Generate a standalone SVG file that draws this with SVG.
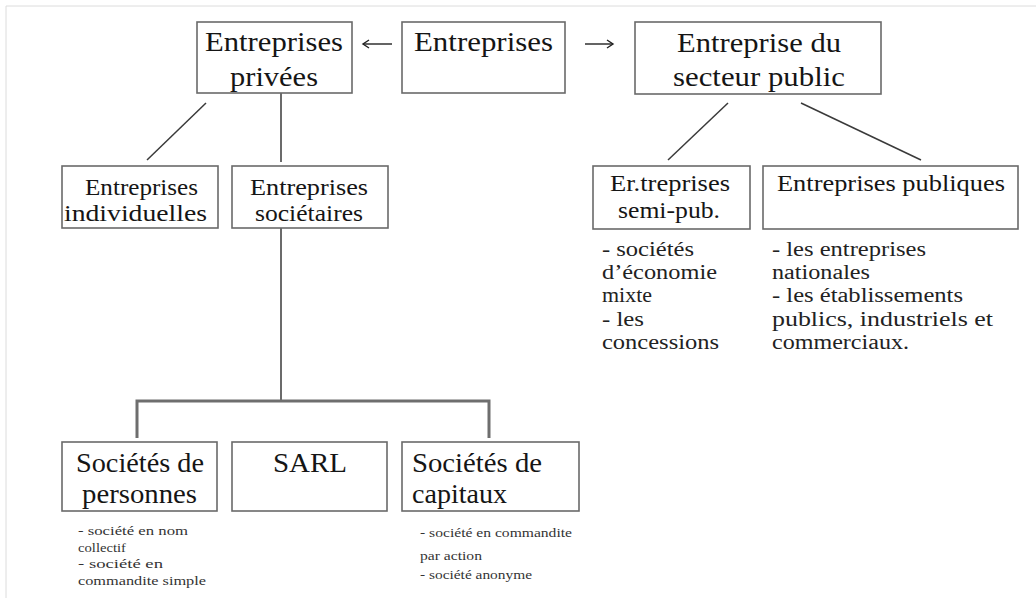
<svg xmlns="http://www.w3.org/2000/svg" width="1036" height="598" viewBox="0 0 1036 598" font-family="'Liberation Serif', 'Times New Roman', 'DejaVu Serif', serif">
<defs>
<marker id="ah" markerWidth="10" markerHeight="10" refX="8" refY="5" orient="auto" markerUnits="userSpaceOnUse">
<path d="M2,1 L8,5 L2,9" fill="none" stroke="#222" stroke-width="1.4"/>
</marker>
<style>
.box{fill:#fff;stroke:#6a6a6a;stroke-width:1.6}
text{font-family:'Liberation Serif','Times New Roman','DejaVu Serif',serif;fill:#151515}
.lg{font-size:28px}
.md{font-size:23px}
.bt{font-size:27px}
.ls{font-size:20px;fill:#222}
.sm{font-size:13px;fill:#333}
.ln{stroke:#3a3a3a;stroke-width:1.5;fill:none}
.bus{stroke:#6e6e6e;stroke-width:3;fill:none}
.ar{stroke:#222;stroke-width:1.4;fill:none}
</style>
</defs>
<rect x="0" y="0" width="1036" height="598" fill="#fff"/>
<path d="M6,598 V6 H1036" fill="none" stroke="#dcdcdc" stroke-width="1"/>

<g id="connectors">
<path class="ar" d="M392,44 H363" marker-end="url(#ah)"/>
<path class="ar" d="M585,44 H613" marker-end="url(#ah)"/>
<path class="ln" d="M206,103 L147,160"/>
<path class="ln" d="M281,93 V162"/>
<path class="ln" d="M281,228 V401"/>
<path class="bus" d="M137,438 V401 H489 V438"/>
<path class="ln" d="M728,103 L668,160"/>
<path class="ln" d="M801,103 L921,160"/>
</g>

<g id="n-prive">
<rect class="box" x="197" y="22" width="155" height="71"/>
<text class="lg" x="205" y="51" textLength="138" lengthAdjust="spacingAndGlyphs">Entreprises</text>
<text class="lg" x="230" y="86" textLength="88" lengthAdjust="spacingAndGlyphs">privées</text>
</g>
<g id="n-entreprises">
<rect class="box" x="402" y="22" width="163" height="71"/>
<text class="lg" x="414" y="51" textLength="139" lengthAdjust="spacingAndGlyphs">Entreprises</text>
</g>
<g id="n-public">
<rect class="box" x="635" y="22" width="246" height="72"/>
<text class="lg" x="677" y="52" textLength="164" lengthAdjust="spacingAndGlyphs">Entreprise du</text>
<text class="lg" x="673" y="86" textLength="172" lengthAdjust="spacingAndGlyphs">secteur public</text>
</g>

<g id="n-individuelles">
<rect class="box" x="62" y="166" width="156" height="62"/>
<text class="md" x="85" y="195" textLength="113" lengthAdjust="spacingAndGlyphs">Entreprises</text>
<text class="md" x="64" y="221" textLength="143" lengthAdjust="spacingAndGlyphs">individuelles</text>
</g>
<g id="n-societaires">
<rect class="box" x="232" y="166" width="156" height="62"/>
<text class="md" x="250" y="195" textLength="118" lengthAdjust="spacingAndGlyphs">Entreprises</text>
<text class="md" x="255" y="221" textLength="108" lengthAdjust="spacingAndGlyphs">sociétaires</text>
</g>

<g id="n-semipub">
<rect class="box" x="593" y="166" width="157" height="63"/>
<text class="md" x="610" y="191" textLength="120" lengthAdjust="spacingAndGlyphs">Er.treprises</text>
<text class="md" x="618" y="218" textLength="102" lengthAdjust="spacingAndGlyphs">semi-pub.</text>
<text class="ls" x="602" y="256" textLength="92" lengthAdjust="spacingAndGlyphs">- sociétés</text>
<text class="ls" x="602" y="279" textLength="115" lengthAdjust="spacingAndGlyphs">d’économie</text>
<text class="ls" x="602" y="302" textLength="50" lengthAdjust="spacingAndGlyphs">mixte</text>
<text class="ls" x="602" y="326" textLength="42" lengthAdjust="spacingAndGlyphs">- les</text>
<text class="ls" x="602" y="349" textLength="117" lengthAdjust="spacingAndGlyphs">concessions</text>
</g>
<g id="n-publiques">
<rect class="box" x="763" y="166" width="255" height="63"/>
<text class="md" x="777" y="191" textLength="228" lengthAdjust="spacingAndGlyphs">Entreprises publiques</text>
<text class="ls" x="772" y="256" textLength="154" lengthAdjust="spacingAndGlyphs">- les entreprises</text>
<text class="ls" x="772" y="279" textLength="98" lengthAdjust="spacingAndGlyphs">nationales</text>
<text class="ls" x="772" y="302" textLength="191" lengthAdjust="spacingAndGlyphs">- les établissements</text>
<text class="ls" x="772" y="326" textLength="221" lengthAdjust="spacingAndGlyphs">publics, industriels et</text>
<text class="ls" x="772" y="349" textLength="137" lengthAdjust="spacingAndGlyphs">commerciaux.</text>
</g>

<g id="n-personnes">
<rect class="box" x="62" y="442" width="155" height="69"/>
<text class="bt" x="76" y="472" textLength="128" lengthAdjust="spacingAndGlyphs">Sociétés de</text>
<text class="bt" x="82" y="503" textLength="115" lengthAdjust="spacingAndGlyphs">personnes</text>
<text class="sm" x="78" y="535" textLength="110" lengthAdjust="spacingAndGlyphs">- société en nom</text>
<text class="sm" x="78" y="552" textLength="48" lengthAdjust="spacingAndGlyphs">collectif</text>
<text class="sm" x="78" y="568" textLength="85" lengthAdjust="spacingAndGlyphs">- société en</text>
<text class="sm" x="78" y="585" textLength="128" lengthAdjust="spacingAndGlyphs">commandite simple</text>
</g>
<g id="n-sarl">
<rect class="box" x="232" y="442" width="155" height="69"/>
<text class="bt" x="273" y="472" textLength="74" lengthAdjust="spacingAndGlyphs">SARL</text>
</g>
<g id="n-capitaux">
<rect class="box" x="402" y="442" width="177" height="69"/>
<text class="bt" x="412" y="472" textLength="130" lengthAdjust="spacingAndGlyphs">Sociétés de</text>
<text class="bt" x="412" y="503" textLength="95" lengthAdjust="spacingAndGlyphs">capitaux</text>
<text class="sm" x="420" y="537" textLength="152" lengthAdjust="spacingAndGlyphs">- société en commandite</text>
<text class="sm" x="420" y="560" textLength="62" lengthAdjust="spacingAndGlyphs">par action</text>
<text class="sm" x="420" y="579" textLength="112" lengthAdjust="spacingAndGlyphs">- société anonyme</text>
</g>
</svg>
